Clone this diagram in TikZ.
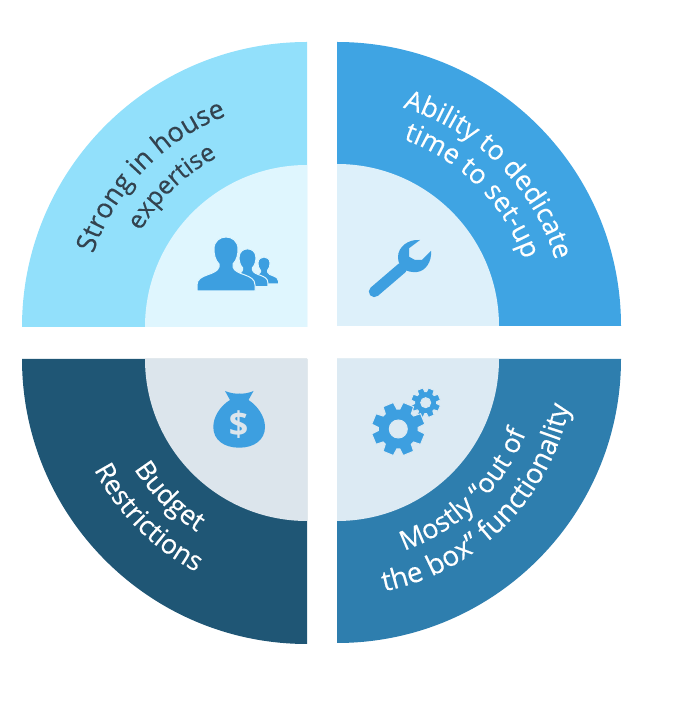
\documentclass[tikz,border=0pt]{standalone}
\usepackage{fontspec}
\setmainfont{Open Sans}
\newfontfamily\arcfamily[FakeBold=0.25]{Open Sans}
\usepackage{xcolor}
\usetikzlibrary{decorations.text}
\definecolor{lightouter}{HTML}{92E0FB}
\definecolor{lightinner}{HTML}{DFF6FE}
\definecolor{skyouter}{HTML}{3FA4E3}
\definecolor{skyinner}{HTML}{DDF0FA}
\definecolor{navyouter}{HTML}{1F5675}
\definecolor{navyinner}{HTML}{DCE5EC}
\definecolor{seaouter}{HTML}{2E7EAE}
\definecolor{seainner}{HTML}{DCEAF3}
\definecolor{iconblue}{HTML}{3D9FE0}
\definecolor{darktext}{HTML}{33434F}
\newcommand{\darkfont}[1]{\arcfamily\fontsize{#1}{#1}\selectfont\color{darktext}}
\newcommand{\whitefont}[1]{\arcfamily\fontsize{#1}{#1}\selectfont\color{white}}
\newcommand{\personicon}[3]{%
  \fill[icon,draw=lightinner,line width=1pt,shift={(#1,#2)},scale=#3]
    (-29,0) -- (-29,6) .. controls (-29,12) and (-24,14) .. (-19,16)
    .. controls (-13,18) and (-8,20) .. (-7,24) -- (-7,27)
    .. controls (-11,31) and (-12,37) .. (-12,42)
    .. controls (-12,50) and (-6,54) .. (0,54)
    .. controls (6,54) and (12,50) .. (12,42)
    .. controls (12,37) and (11,31) .. (7,27) -- (7,24)
    .. controls (8,20) and (13,18) .. (19,16)
    .. controls (24,14) and (29,12) .. (29,6) -- (29,0) -- cycle;
}
\newcommand{\gearicon}[5]{%
  \fill[icon,even odd rule,draw=seainner,line width=1pt,shift={(#1,#2)}]
    (22.5-12:#3pt)
    \foreach \a in {22.5,67.5,...,337.5} {
      -- (\a-12:#3pt) -- (\a+12:#3pt) -- (\a+18:#4pt) -- (\a+27:#4pt) -- (\a+33:#3pt)
    } -- cycle
    (0,0) circle[radius=#5pt];
}
\tikzset{
    quadrant/.style={line width=0pt},
    icon/.style={fill=iconblue},
    textline/.style={
        decorate,
        decoration={text along path,text align=center,text={#1}},
    },
}
\begin{document}
\begin{tikzpicture}[x=1pt,y=1pt]
      \useasboundingbox (0,0) rectangle (686,702);
      \coordinate (tl) at (307,375);
      \coordinate (tr) at (337,376);
      \coordinate (bl) at (307,343);
      \coordinate (br) at (337,343);

      \fill[quadrant,lightouter] (tl) -- ++(-285,0) arc[start angle=180,end angle=90,radius=285pt] -- cycle;
      \fill[quadrant,lightinner] (tl) -- ++(-162,0) arc[start angle=180,end angle=90,radius=162pt] -- cycle;
      \fill[quadrant,skyouter] (tr) -- ++(0,284) arc[start angle=90,end angle=0,radius=284pt] -- cycle;
      \fill[quadrant,skyinner] (tr) -- ++(0,162) arc[start angle=90,end angle=0,radius=162pt] -- cycle;
      \fill[quadrant,navyouter] (bl) -- ++(-285,0) arc[start angle=180,end angle=270,radius=285pt] -- cycle;
      \fill[quadrant,navyinner] (bl) -- ++(-162,0) arc[start angle=180,end angle=270,radius=162pt] -- cycle;
      \fill[quadrant,seaouter] (br) -- ++(284,0) arc[start angle=0,end angle=-90,radius=284pt] -- cycle;
      \fill[quadrant,seainner] (br) -- ++(162,0) arc[start angle=0,end angle=-90,radius=162pt] -- cycle;

      \path[textline={|\darkfont{27}|Strong in house}] (tl) ++(176:226pt) arc[start angle=176,end angle=96,radius=226pt];
      \path[textline={|\darkfont{25}|expertise}] (tl) ++(174:192pt) arc[start angle=174,end angle=94,radius=192pt];
      \path[textline={|\whitefont{27}|Ability to dedicate}] (tr) ++(85:228pt) arc[start angle=85,end angle=5,radius=228pt];
      \path[textline={|\whitefont{27}|time to set-up}] (tr) ++(85:198pt) arc[start angle=85,end angle=5,radius=198pt];
      \path[textline={|\whitefont{27}|Budget}] (bl) ++(185:205pt) arc[start angle=185,end angle=265,radius=205pt];
      \path[textline={|\whitefont{27}|Restrictions}] (bl) ++(185:240pt) arc[start angle=185,end angle=265,radius=240pt];
      \path[textline={|\whitefont{27}|Mostly “out of}] (br) ++(-86:203pt) arc[start angle=-86,end angle=-6,radius=203pt];
      \path[textline={|\whitefont{28}|the box” functionality}] (br) ++(-88:237pt) arc[start angle=-88,end angle=-2,radius=237pt];

      \personicon{264}{418}{0.5}
      \personicon{247.5}{415.3}{0.7}
      \personicon{226}{411}{1}

      \draw[icon,draw=iconblue,line width=11pt,line cap=round] (374.3,410.3) -- (402,434);
      \fill[icon] (420,462) .. controls (408,463) and (398,455) .. (398,445)
        .. controls (398,434) and (407,429) .. (417,430)
        .. controls (426,431) and (432,441) .. (431,451)
        -- (422,442) -- (415,442) -- (409,445.3) -- (409,453.7) -- cycle;

      \fill[icon] (225,311) .. controls (230,309) and (235,308) .. (239.3,308.5)
        .. controls (244,308) and (249,309) .. (253.5,311) -- (248.5,302)
        .. controls (258,296) and (265,285) .. (265,275)
        .. controls (265,262) and (254,254.3) .. (239.3,254.3)
        .. controls (224,254.3) and (213.3,262) .. (213.3,275)
        .. controls (213.3,285) and (220,296) .. (230,302) -- cycle;
      \node[text=navyinner,font=\bfseries\fontsize{34}{34}\selectfont,inner sep=0pt] (dollar) at (238.5,277) {\$};

      \gearicon{425.7}{299.3}{15}{11}{5}
      \gearicon{398.3}{273}{27}{20}{9}
    \end{tikzpicture}
\end{document}
